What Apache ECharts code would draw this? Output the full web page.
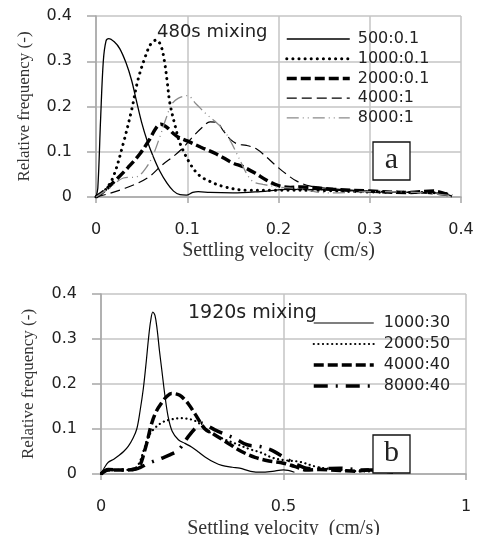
<!DOCTYPE html>
<html>
<head>
<meta charset="utf-8">
<script src="https://cdn.jsdelivr.net/npm/echarts@6/dist/echarts.min.js"></script>
<style>
  html, body { margin: 0; padding: 0; background: #fff; }
  #chart { width: 488px; height: 535px; }
</style>
</head>
<body>
<div id="chart"></div>
<script>
// panel a : 480s mixing, [settling velocity, relative frequency]
var aNames = ['500:0.1', '1000:0.1', '2000:0.1', '4000:1', '8000:1'];
var aTicks = [0, 0.1, 0.2, 0.3, 0.4];
var a500 = [[0,0],[0.002,0.02],[0.005,0.17],[0.008,0.3],[0.011,0.345],[0.014,0.35],[0.02,0.343],[0.026,0.328],[0.033,0.296],[0.039,0.258],[0.044,0.215],[0.05,0.165],[0.056,0.125],[0.063,0.088],[0.07,0.057],[0.078,0.03],[0.085,0.013],[0.092,0.005],[0.099,0.004],[0.106,0.01],[0.112,0.012],[0.125,0.01],[0.15,0.009],[0.18,0.012],[0.21,0.017],[0.25,0.016],[0.3,0.012],[0.35,0.01],[0.38,0.008],[0.39,0.002]];
var a1000 = [[0,0],[0.01,0.015],[0.019,0.045],[0.03,0.119],[0.039,0.192],[0.046,0.259],[0.054,0.31],[0.06,0.338],[0.066,0.347],[0.071,0.335],[0.075,0.3],[0.078,0.255],[0.081,0.207],[0.087,0.155],[0.092,0.119],[0.103,0.074],[0.112,0.05],[0.121,0.038],[0.14,0.023],[0.165,0.015],[0.2,0.015],[0.25,0.014],[0.3,0.011],[0.35,0.01],[0.38,0.009],[0.39,0.003]];
var a2000 = [[0,0],[0.01,0.015],[0.023,0.04],[0.035,0.065],[0.048,0.095],[0.058,0.125],[0.066,0.153],[0.071,0.161],[0.077,0.155],[0.088,0.135],[0.1,0.124],[0.115,0.11],[0.132,0.095],[0.15,0.075],[0.161,0.067],[0.175,0.052],[0.187,0.037],[0.2,0.025],[0.213,0.021],[0.224,0.022],[0.26,0.017],[0.3,0.013],[0.34,0.01],[0.37,0.013],[0.39,0.002]];
var a4000 = [[0,0],[0.015,0.008],[0.03,0.018],[0.045,0.03],[0.059,0.046],[0.072,0.07],[0.085,0.09],[0.095,0.108],[0.107,0.135],[0.117,0.155],[0.125,0.166],[0.132,0.165],[0.14,0.145],[0.147,0.128],[0.155,0.117],[0.165,0.114],[0.176,0.106],[0.187,0.088],[0.198,0.068],[0.209,0.05],[0.22,0.035],[0.235,0.024],[0.26,0.018],[0.3,0.013],[0.35,0.01],[0.39,0.002]];
var a8000 = [[0,0],[0.015,0.02],[0.03,0.042],[0.045,0.045],[0.055,0.065],[0.062,0.09],[0.07,0.133],[0.077,0.175],[0.083,0.205],[0.09,0.218],[0.1,0.224],[0.11,0.205],[0.121,0.183],[0.13,0.168],[0.14,0.148],[0.147,0.125],[0.154,0.097],[0.16,0.072],[0.165,0.052],[0.172,0.034],[0.183,0.028],[0.2,0.022],[0.224,0.018],[0.242,0.011],[0.26,0.009],[0.3,0.012],[0.35,0.01],[0.39,0.003]];

// panel b : 1920s mixing
var bNames = ['1000:30', '2000:50', '4000:40', '8000:40'];
var bTicks = [0, 0.5, 1];
var b1000 = [[0,0],[0.01,0.015],[0.02,0.026],[0.035,0.033],[0.047,0.04],[0.062,0.05],[0.075,0.062],[0.088,0.08],[0.098,0.1],[0.107,0.14],[0.116,0.19],[0.124,0.25],[0.13,0.3],[0.136,0.34],[0.142,0.36],[0.148,0.352],[0.154,0.32],[0.16,0.275],[0.166,0.235],[0.175,0.175],[0.184,0.127],[0.195,0.095],[0.212,0.076],[0.23,0.068],[0.248,0.06],[0.265,0.05],[0.285,0.038],[0.31,0.026],[0.331,0.019],[0.36,0.015],[0.38,0.013],[0.41,0.006],[0.44,0.004],[0.47,0.006],[0.5,0.009],[0.53,0.004]];
var b2000 = [[0,0],[0.02,0.009],[0.06,0.009],[0.09,0.011],[0.105,0.025],[0.118,0.055],[0.13,0.083],[0.145,0.1],[0.166,0.114],[0.19,0.121],[0.221,0.124],[0.258,0.118],[0.28,0.105],[0.303,0.09],[0.335,0.078],[0.367,0.068],[0.408,0.055],[0.44,0.047],[0.47,0.036],[0.5,0.031],[0.545,0.027],[0.59,0.016],[0.64,0.01],[0.68,0.007],[0.72,0.006],[0.76,0.005],[0.8,0.004]];
var b4000 = [[0,0],[0.02,0.009],[0.06,0.009],[0.1,0.014],[0.12,0.053],[0.139,0.113],[0.152,0.14],[0.166,0.158],[0.18,0.172],[0.193,0.179],[0.21,0.177],[0.221,0.172],[0.24,0.155],[0.258,0.133],[0.285,0.1],[0.31,0.088],[0.349,0.068],[0.385,0.05],[0.422,0.037],[0.46,0.029],[0.5,0.024],[0.53,0.017],[0.563,0.009],[0.6,0.01],[0.655,0.008],[0.7,0.006],[0.73,0.009],[0.8,0.004]];
var b8000 = [[0,0],[0.02,0.01],[0.06,0.009],[0.1,0.012],[0.13,0.024],[0.166,0.035],[0.19,0.043],[0.212,0.053],[0.239,0.083],[0.26,0.103],[0.276,0.113],[0.295,0.106],[0.312,0.098],[0.34,0.088],[0.367,0.079],[0.4,0.065],[0.436,0.061],[0.47,0.052],[0.509,0.033],[0.54,0.02],[0.563,0.013],[0.6,0.012],[0.655,0.013],[0.71,0.009],[0.75,0.009],[0.8,0.004]];

var gridColor = '#c4c4c4';
var tickFont = 'DejaVu Sans';
var serifFont = 'Liberation Serif';

// grid lines every "step", ticks and labels only at tickVals
var makeX = function (idx, max, step, tickVals, labelMargin, nameGap) {
    return {
        type: 'value', gridIndex: idx, min: 0, max: max, interval: step,
        name: 'Settling velocity  (cm/s)', nameLocation: 'middle', nameGap: nameGap,
        nameTextStyle: {fontFamily: serifFont, fontSize: 20, color: '#333'},
        axisLine: {show: true, lineStyle: {color: '#a6a6a6', width: 1.5}},
        axisTick: {show: true, length: 6, customValues: tickVals, lineStyle: {color: '#a6a6a6', width: 1.5}},
        axisLabel: {margin: labelMargin, customValues: tickVals, fontFamily: tickFont, fontSize: 16, color: '#222'},
        splitLine: {show: true, lineStyle: {color: gridColor, width: 1.5}}
    };
};

var makeY = function (idx, nameGap) {
    return {
        type: 'value', gridIndex: idx, min: 0, max: 0.4, interval: 0.1,
        name: 'Relative frequency (-)', nameLocation: 'middle', nameGap: nameGap,
        nameTextStyle: {fontFamily: serifFont, fontSize: 17, color: '#333'},
        axisLine: {show: true, lineStyle: {color: '#a6a6a6', width: 1.5}},
        axisTick: {show: true, length: 9, lineStyle: {color: '#a6a6a6', width: 1.5}},
        axisLabel: {margin: 24, fontFamily: tickFont, fontSize: 16, color: '#222'},
        splitLine: {show: true, lineStyle: {color: gridColor, width: 1.5}}
    };
};

var line = function (name, data, idx, style, z) {
    return {
        name: name, type: 'line', xAxisIndex: idx, yAxisIndex: idx,
        data: data, smooth: 0.35, symbol: 'none', showSymbol: false,
        lineStyle: style, z: z || 2, animation: false
    };
};

var legendBox = function (names, left, top, gap, width, pad) {
    return {
        data: names, orient: 'vertical', left: left, top: top, padding: 0,
        itemWidth: width, itemHeight: 14, itemGap: gap, selectedMode: false,
        itemStyle: {color: 'transparent', borderWidth: 0, opacity: 0},
        lineStyle: {width: 'inherit'},
        textStyle: {fontFamily: tickFont, fontSize: 16, color: '#222', padding: [0, 0, 0, pad]}
    };
};

var chart = echarts.init(document.getElementById('chart'), null, {renderer: 'canvas'});

chart.setOption({
    backgroundColor: '#fff',
    animation: false,
    grid: [
        {left: 96, top: 16, width: 365, height: 181, outerBoundsMode: 'none'},
        {left: 101, top: 294, width: 365, height: 180, outerBoundsMode: 'none'}
    ],
    xAxis: [makeX(0, 0.4, 0.02, aTicks, 25, 44), makeX(1, 1, 0.1, bTicks, 25, 45)],
    yAxis: [makeY(0, 63), makeY(1, 64)],
    legend: [
        legendBox(aNames, 285, 31, 3.7, 63, 3),
        legendBox(bNames, 312, 315, 5, 60, 5)
    ],
    series: [
        line('500:0.1', a500, 0, {color: '#000', width: 1.3}),
        line('1000:0.1', a1000, 0, {color: '#000', width: 3, type: [0.1, 6], cap: 'round'}),
        line('2000:0.1', a2000, 0, {color: '#000', width: 3.5, type: [10, 4]}),
        line('4000:1', a4000, 0, {color: '#000', width: 1.2, type: [10, 5]}),
        line('8000:1', a8000, 0, {color: '#8a8a8a', width: 1.3, type: [12, 4, 1, 4, 1, 4]}),
        line('1000:30', b1000, 1, {color: '#000', width: 1.2}),
        line('2000:50', b2000, 1, {color: '#000', width: 2.2, type: [0.1, 4.5], cap: 'round'}),
        line('4000:40', b4000, 1, {color: '#000', width: 3.5, type: [10, 4]}),
        line('8000:40', b8000, 1, {color: '#000', width: 3.5, type: [14, 8, 2, 8]})
    ],
    graphic: [
        {type: 'text', z: 100, style: {x: 157, y: 32, text: '480s mixing', font: '18px "DejaVu Sans"', fill: '#222', textAlign: 'left', textVerticalAlign: 'middle'}},
        {type: 'text', z: 100, style: {x: 188, y: 313, text: '1920s mixing', font: '19px "DejaVu Sans"', fill: '#222', textAlign: 'left', textVerticalAlign: 'middle'}},
        {type: 'rect', z: 100, shape: {x: 373, y: 142, width: 37, height: 38}, style: {fill: '#fff', stroke: '#111', lineWidth: 1.3}},
        {type: 'text', z: 101, style: {x: 391.5, y: 160, text: 'a', font: '30px "Liberation Serif"', fill: '#222', textAlign: 'center', textVerticalAlign: 'middle'}},
        {type: 'rect', z: 100, shape: {x: 373, y: 435, width: 37, height: 38}, style: {fill: '#fff', stroke: '#111', lineWidth: 1.3}},
        {type: 'text', z: 101, style: {x: 391.5, y: 453, text: 'b', font: '30px "Liberation Serif"', fill: '#222', textAlign: 'center', textVerticalAlign: 'middle'}}
    ]
});
</script>
</body>
</html>
